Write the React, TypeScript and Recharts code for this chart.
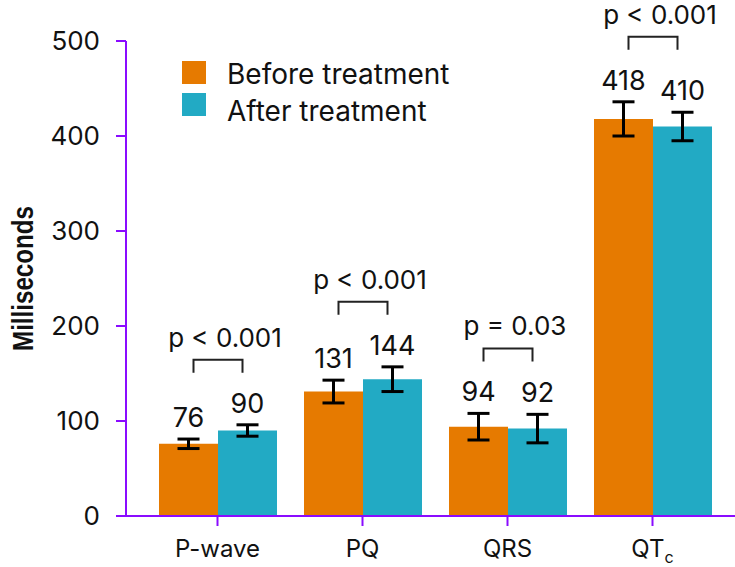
import React from "react";
import {
  BarChart,
  Bar,
  XAxis,
  YAxis,
  ErrorBar,
  LabelList,
  Legend,
} from "recharts";

const categories = ["P-wave", "PQ", "QRS", "QTc"];
const before = [76, 131, 94, 418];
const after = [90, 144, 92, 410];
const errBefore = [5, 12, 14, 18];
const errAfter = [6, 13, 15, 15];
const pLabels = ["p < 0.001", "p < 0.001", "p = 0.03", "p < 0.001"];
const yTicks = [0, 100, 200, 300, 400, 500];

const ORANGE = "#E67A00";
const TEAL = "#22AAC4";
const PURPLE = "#8A0CFF";
const FONT = "Inter, 'Open Sans', sans-serif";

const data = categories.map((name, i) => ({
  name,
  before: before[i],
  after: after[i],
  errBefore: errBefore[i],
  errAfter: errAfter[i],
}));

const valueLabel = (errs: number[]) => (props: any) => {
  const x = Number(props.x);
  const y = Number(props.y);
  const width = Number(props.width);
  const height = Number(props.height);
  const value = Number(props.value);
  const ppu = height / value;
  const top = y - errs[props.index] * ppu;
  return (
    <text
      x={x + width / 2}
      y={top - 12}
      textAnchor="middle"
      fontSize={27}
      fontFamily={FONT}
      fill="#111"
    >
      {value}
    </text>
  );
};

// bracket + p value, drawn from the "after" bar of each group
const bracket = (props: any) => {
  const x = Number(props.x);
  const y = Number(props.y);
  const width = Number(props.width);
  const height = Number(props.height);
  const value = Number(props.value);
  const i = props.index;
  const ppu = height / value;
  const base = y + height;
  const topB = base - (before[i] + errBefore[i]) * ppu;
  const topA = base - (after[i] + errAfter[i]) * ppu;
  const yb = Math.min(topB, topA) - 65;
  const x1 = x - width / 2 + 5;
  const x2 = x + width / 2 - 5;
  return (
    <g>
      <path
        d={`M${x1},${yb + 13} V${yb} H${x2} V${yb + 13}`}
        fill="none"
        stroke="#222"
        strokeWidth={2}
      />
      <text
        x={(x1 + x2) / 2 + 7}
        y={yb - 13}
        textAnchor="middle"
        fontSize={26}
        fontFamily={FONT}
        fill="#111"
      >
        {pLabels[i]}
      </text>
    </g>
  );
};

const XTick = (props: any) => {
  const { x, y, payload } = props;
  const v: string = payload.value;
  return (
    <text
      x={x}
      y={y}
      dy={29}
      textAnchor="middle"
      fontSize={24}
      fontFamily={FONT}
      fill="#111"
    >
      {v === "QTc" ? (
        <>
          <tspan>QT</tspan>
          <tspan fontSize={16} dy={6}>c</tspan>
        </>
      ) : (
        v
      )}
    </text>
  );
};

const YLabel = (props: any) => {
  const vb = props.viewBox || { x: 0, y: 41, height: 475 };
  const cx = 33;
  const cy = vb.y + vb.height / 2;
  return (
    <text
      x={cx}
      y={cy}
      transform={`rotate(-90 ${cx} ${cy})`}
      textAnchor="middle"
      fontSize={30}
      fontWeight={700}
      fontFamily="'Liberation Sans', Arial, sans-serif"
      textLength={145}
      lengthAdjust="spacingAndGlyphs"
      fill="#111"
    >
      Milliseconds
    </text>
  );
};

const legendItems = [
  { label: "Before treatment", color: ORANGE, textTop: -3 },
  { label: "After treatment", color: TEAL, textTop: 2 },
];

const LegendBox = () => (
  <div style={{ fontFamily: FONT, fontSize: 28, color: "#111" }}>
    {legendItems.map((d) => (
      <div key={d.label} style={{ position: "relative", height: 32 }}>
        <span
          style={{
            position: "absolute",
            left: 0,
            top: 0,
            width: 24,
            height: 23,
            background: d.color,
          }}
        />
        <span
          style={{
            position: "absolute",
            left: 45,
            top: d.textTop,
            lineHeight: "32px",
            whiteSpace: "nowrap",
          }}
        >
          {d.label}
        </span>
      </div>
    ))}
  </div>
);

export default function App() {
  return (
    <div style={{ position: "absolute", left: 0, top: 0 }}>
      <BarChart
        width={735}
        height={567}
        data={data}
        margin={{ top: 41, right: 0, bottom: 0, left: 0 }}
        barGap={0}
        barSize={59}
      >
        <XAxis
          dataKey="name"
          height={51}
          padding={{ left: 19, right: 10 }}
          axisLine={{ stroke: PURPLE, strokeWidth: 2 }}
          tickLine={{ stroke: PURPLE, strokeWidth: 2 }}
          tickSize={10}
          tick={<XTick />}
        />
        <YAxis
          width={126}
          domain={[0, 500]}
          ticks={yTicks}
          axisLine={{ stroke: PURPLE, strokeWidth: 2 }}
          tickLine={{ stroke: PURPLE, strokeWidth: 2 }}
          tickSize={10}
          tickMargin={16}
          tick={{ fontSize: 26, fontFamily: FONT, fill: "#111" }}
          label={<YLabel />}
        />
        <Legend
          layout="horizontal"
          verticalAlign="middle"
          align="center"
          wrapperStyle={{ position: "absolute", left: 182, top: 61, width: 300, height: 64 }}
          content={<LegendBox />}
        />
        <Bar dataKey="before" fill={ORANGE} isAnimationActive={false}>
          <ErrorBar dataKey="errBefore" stroke="#000" strokeWidth={3} width={11} />
          <LabelList dataKey="before" content={valueLabel(errBefore)} />
        </Bar>
        <Bar dataKey="after" fill={TEAL} isAnimationActive={false}>
          <ErrorBar dataKey="errAfter" stroke="#000" strokeWidth={3} width={11} />
          <LabelList dataKey="after" content={valueLabel(errAfter)} />
          <LabelList dataKey="after" content={bracket} />
        </Bar>
      </BarChart>
    </div>
  );
}
